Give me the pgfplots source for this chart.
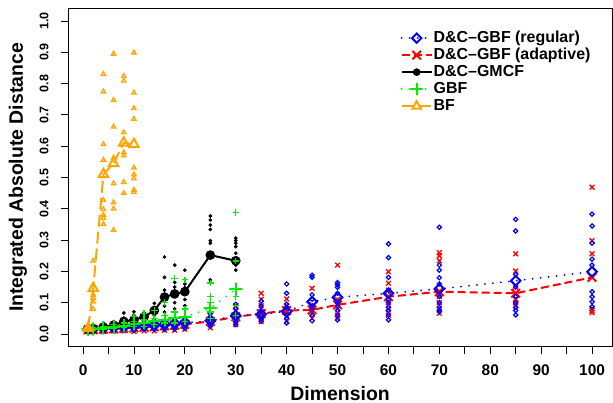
\documentclass[border=0pt]{standalone}
\usepackage{pgfplots}
\pgfplotsset{compat=1.18}
\usepackage{fontspec}
\setmainfont{Liberation Sans}
\definecolor{cReg}{RGB}{0,0,255}
\definecolor{cAda}{RGB}{255,0,0}
\definecolor{cGBF}{RGB}{0,235,0}
\definecolor{cBF}{RGB}{255,165,0}
\tikzset{
  smdiam/.style={mark=square, mark size=1.5bp, mark options={solid, rotate=45, line width=1.2bp}},
  bgdiam/.style={mark=square, mark size=3.4bp, mark options={solid, rotate=45, line width=2bp}},
}
\begin{document}
\begin{tikzpicture}
\useasboundingbox (0,0) rectangle (613bp,403bp);
\begin{axis}[
  at={(68bp,56.5bp)}, anchor=south west,
  width=544.2bp, height=338bp, scale only axis,
  xmin=-2.96, xmax=103.96, ymin=-0.04, ymax=1.04,
  axis line style={black, line width=0.9bp},
  xtick={0,10,...,100}, minor xtick={5,15,...,95},
  ytick={0,0.1,...,1.0},
  tick align=outside, tick pos=left,
  major tick length=7bp, minor tick length=7bp,
  every tick/.style={black, line width=0.9bp},
  every minor tick/.style={black, line width=0.9bp},
  /pgf/number format/assume math mode=true,
  yticklabel={\pgfmathprintnumber[fixed,fixed zerofill,precision=1]{\tick}},
  xticklabel style={font=\fontsize{15.5}{17}\selectfont\bfseries, yshift=-8bp},
  yticklabel style={font=\fontsize{12.5}{14}\selectfont\bfseries, xshift=-9bp, rotate=90, anchor=south},
  xlabel={Dimension}, ylabel={Integrated Absolute Distance},
  label style={font=\fontsize{19.5}{22}\selectfont\bfseries},
  xlabel style={at={(axis description cs:0.5,-0.138)}, anchor=center},
  ylabel style={at={(axis description cs:-0.092,0.5)}, anchor=center},
  legend style={draw=none, fill=none, at={(0.611,0.938)}, anchor=north west,
    font=\fontsize{16}{18}\selectfont\bfseries, row sep=0bp,
    inner sep=0pt, legend cell align=left,
    nodes={text height=11.5bp, text depth=3.5bp, inner sep=1bp}},
  legend image code/.code={\draw[mark repeat=2,mark phase=2,#1] plot coordinates {(0bp,0bp) (15bp,0bp) (30bp,0bp)};},
]
% legend
\addlegendimage{cReg, line width=2bp, dash pattern=on 0.01bp off 8bp, line cap=round, mark=square, mark size=3.3bp, mark options={solid, rotate=45, line width=2bp}}
\addlegendentry{D\&C--GBF (regular)}
\addlegendimage{cAda, line width=2bp, dash pattern=on 8bp off 4bp, mark=x, mark size=6bp, mark options={solid, line width=2bp}}
\addlegendentry{D\&C--GBF (adaptive)}
\addlegendimage{black, line width=2bp, mark=*, mark size=2.8bp}
\addlegendentry{D\&C--GMCF}
\addlegendimage{cGBF, line width=2bp, dash pattern=on 0.01bp off 8bp, line cap=round, mark=+, mark size=5.5bp, mark options={solid, line width=2bp}}
\addlegendentry{GBF}
\addlegendimage{cBF, line width=2bp, dash pattern=on 12bp off 5bp, mark=triangle, mark size=5bp, mark options={solid, line width=2bp}}
\addlegendentry{BF}

% ---------- D&C-GBF adaptive (red) ----------
\addplot[forget plot, only marks, cAda, mark=x, mark size=3.4bp, mark options={line width=1.3bp}] coordinates {
(1,0.010)(1,0.014)(1,0.018)(2,0.010)(2,0.013)(2,0.020)
(4,0.008)(4,0.012)(4,0.020)(6,0.010)(6,0.014)(6,0.022)
(8,0.010)(8,0.015)(8,0.025)(10,0.008)(10,0.016)(10,0.028)
(12,0.010)(12,0.018)(12,0.030)(14,0.010)(14,0.020)(14,0.032)
(16,0.012)(16,0.022)(16,0.040)(18,0.012)(18,0.025)(18,0.045)
(20,0.015)(20,0.028)(20,0.050)
(25,0.020)(25,0.030)(25,0.045)(25,0.060)
(30,0.030)(30,0.045)(30,0.060)(30,0.075)(30,0.090)
(35,0.130)(35,0.111)(35,0.090)(35,0.070)(35,0.050)(35,0.040)
(40,0.112)(40,0.090)(40,0.070)(40,0.055)(40,0.040)
(45,0.146)(45,0.090)(45,0.065)(45,0.050)
(50,0.220)(50,0.110)(50,0.080)(50,0.060)(50,0.050)
(60,0.199)(60,0.162)(60,0.140)(60,0.100)(60,0.080)(60,0.060)
(70,0.260)(70,0.250)(70,0.234)(70,0.120)(70,0.100)(70,0.080)(70,0.066)
(85,0.256)(85,0.201)(85,0.150)(85,0.110)(85,0.100)(85,0.090)
(100,0.469)(100,0.298)(100,0.256)(100,0.082)(100,0.075)(100,0.068)
};
\addplot[forget plot, cAda, line width=2bp, dash pattern=on 8bp off 4bp, mark=x, mark size=6bp, mark options={solid, line width=2bp}] coordinates {
(1,0.013)(2,0.014)(4,0.015)(6,0.016)(8,0.018)(10,0.019)(12,0.021)(14,0.023)(16,0.026)(18,0.028)(20,0.031)
(25,0.040)(30,0.055)(35,0.065)(40,0.075)(45,0.077)(50,0.093)(60,0.119)(70,0.135)(85,0.130)(100,0.181)
};

% ---------- D&C-GBF regular (blue) ----------
\addplot[forget plot, only marks, cReg, smdiam] coordinates {
(1,0.010)(1,0.015)(1,0.020)(2,0.010)(2,0.016)(2,0.022)
(4,0.010)(4,0.016)(4,0.024)(6,0.010)(6,0.018)(6,0.026)
(8,0.012)(8,0.020)(8,0.030)(10,0.012)(10,0.022)(10,0.032)
(12,0.014)(12,0.024)(12,0.035)(14,0.014)(14,0.026)(14,0.038)
(16,0.015)(16,0.028)(16,0.042)(18,0.016)(18,0.030)(18,0.048)
(20,0.018)(20,0.034)(20,0.052)
(25,0.025)(25,0.035)(25,0.045)(25,0.055)(25,0.065)
(30,0.030)(30,0.040)(30,0.050)(30,0.065)(30,0.080)(30,0.095)
(35,0.040)(35,0.050)(35,0.060)(35,0.075)(35,0.090)(35,0.105)
(40,0.035)(40,0.050)(40,0.060)(40,0.085)(40,0.095)(40,0.130)(40,0.160)
(45,0.188)(45,0.181)(45,0.125)(45,0.111)(45,0.090)(45,0.080)(45,0.061)(45,0.042)
(50,0.164)(50,0.157)(50,0.149)(50,0.130)(50,0.100)(50,0.090)(50,0.075)(50,0.060)(50,0.045)
(60,0.288)(60,0.244)(60,0.181)(60,0.140)(60,0.110)(60,0.100)(60,0.085)(60,0.075)(60,0.060)(60,0.045)
(70,0.341)(70,0.220)(70,0.204)(70,0.180)(70,0.160)(70,0.120)(70,0.100)(70,0.085)(70,0.077)(70,0.071)
(85,0.366)(85,0.329)(85,0.190)(85,0.150)(85,0.120)(85,0.100)(85,0.085)(85,0.075)(85,0.061)
(100,0.383)(100,0.345)(100,0.290)(100,0.239)(100,0.220)(100,0.135)(100,0.119)(100,0.103)(100,0.087)
};
\addplot[forget plot, cReg, line width=2bp, dash pattern=on 0.01bp off 8bp, line cap=round, bgdiam] coordinates {
(1,0.015)(2,0.016)(4,0.018)(6,0.020)(8,0.022)(10,0.024)(12,0.026)(14,0.028)(16,0.030)(18,0.033)(20,0.036)
(25,0.042)(30,0.058)(35,0.063)(40,0.072)(45,0.103)(50,0.117)(60,0.130)(70,0.144)(85,0.170)(100,0.199)
};

% ---------- D&C-GMCF (black) ----------
\addplot[forget plot, only marks, black, mark=*, mark size=1.7bp] coordinates {
(1,0.013)(1,0.017)(1,0.020)(2,0.014)(2,0.018)(2,0.022)
(4,0.018)(4,0.025)(4,0.034)(6,0.020)(6,0.030)(6,0.039)
(8,0.025)(8,0.040)(8,0.051)(8,0.067)(10,0.030)(10,0.045)(10,0.060)(10,0.071)
(12,0.035)(12,0.050)(12,0.067)(14,0.045)(14,0.060)(14,0.077)(14,0.098)
(16,0.070)(16,0.090)(16,0.140)(16,0.181)(16,0.246)
(18,0.080)(18,0.100)(18,0.150)(18,0.165)(18,0.220)
(20,0.090)(20,0.110)(20,0.148)(20,0.160)(20,0.204)
(25,0.164)(25,0.173)(25,0.290)(25,0.298)(25,0.334)(25,0.348)(25,0.364)(25,0.377)
(30,0.204)(30,0.220)(30,0.258)(30,0.279)(30,0.290)(30,0.298)(30,0.306)
};
\addplot[forget plot, black, line width=2bp, mark=*, mark size=3.8bp] coordinates {
(1,0.016)(2,0.017)(4,0.022)(6,0.028)(8,0.040)(10,0.045)(12,0.055)(14,0.075)(16,0.118)(18,0.128)(20,0.135)(25,0.252)(30,0.234)
};

% ---------- GBF (green) ----------
\addplot[forget plot, only marks, cGBF, mark=+, mark size=3.2bp, mark options={line width=1.3bp}] coordinates {
(1,0.012)(1,0.018)(2,0.012)(2,0.020)(4,0.015)(4,0.025)(6,0.018)(6,0.030)
(8,0.020)(8,0.035)(10,0.025)(10,0.040)(10,0.055)(12,0.025)(12,0.045)(12,0.065)
(14,0.030)(14,0.050)(14,0.075)(16,0.035)(16,0.060)(16,0.100)
(18,0.035)(18,0.070)(18,0.178)(20,0.040)(20,0.080)(20,0.173)
(25,0.050)(25,0.070)(25,0.100)(25,0.120)(25,0.163)
(30,0.060)(30,0.090)(30,0.120)(30,0.233)(30,0.388)
};
\addplot[forget plot, cGBF, line width=2bp, dash pattern=on 0.01bp off 8bp, line cap=round, mark=+, mark size=6bp, mark options={solid, line width=2bp}] coordinates {
(1,0.015)(2,0.016)(4,0.020)(6,0.023)(8,0.027)(10,0.032)(12,0.036)(14,0.040)(16,0.045)(18,0.050)(20,0.055)(25,0.082)(30,0.143)
};

% ---------- BF (orange) ----------
\addplot[forget plot, only marks, cBF, mark=triangle, mark size=2.5bp, mark options={line width=1.3bp}] coordinates {
(1,0.012)(1,0.016)(1,0.021)
(2,0.234)(2,0.125)(2,0.115)(2,0.103)(2,0.079)
(4,0.830)(4,0.774)(4,0.606)(4,0.556)(4,0.428)(4,0.398)(4,0.380)(4,0.370)(4,0.351)
(6,0.895)(6,0.747)(6,0.662)(6,0.563)(6,0.481)(6,0.420)(6,0.400)(6,0.332)
(8,0.824)(8,0.809)(8,0.644)(8,0.580)(8,0.570)(8,0.485)(8,0.450)
(10,0.899)(10,0.771)(10,0.721)(10,0.687)(10,0.531)(10,0.510)(10,0.497)(10,0.460)(10,0.453)
};
\addplot[forget plot, cBF, line width=2bp, dash pattern=on 12bp off 5bp, mark=triangle, mark size=5.5bp, mark options={solid, line width=2bp}] coordinates {
(1,0.019)(2,0.146)(4,0.510)(6,0.545)(8,0.611)(10,0.606)
};
\end{axis}
\end{tikzpicture}
\end{document}
